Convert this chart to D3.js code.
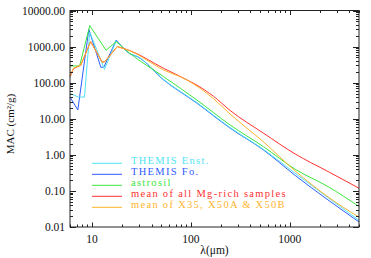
<!DOCTYPE html>
<html>
<head>
<meta charset="utf-8">
<script src="https://cdn.jsdelivr.net/npm/d3@7"></script>
<style>
  body { margin: 0; background: #fff; }
  svg { display: block; }
  text { font-family: "Liberation Serif", "Times New Roman", serif; }
</style>
</head>
<body>
<div id="chart"></div>
<script>
// wavelength (micron) / MAC (cm^2/g) pairs
const themisEnst = [[6,50],[7.3,40],[8.4,40],[9.5,2500],[13.4,235],[17.6,1450],[24,650],[29,530],[53,122],[115,28],[249,5.7],[540,1.42],[1130,0.31],[5000,0.0153]]
const themisFo = [[6,40],[7.2,17.5],[9.3,3000],[12.3,267],[13.2,270],[17.6,1520],[24,640],[29,520],[53,119],[115,27],[249,5.5],[540,1.37],[1130,0.27],[5000,0.0138]]
const astrosil = [[6,290],[7.5,290],[9.5,3800],[13.9,790],[17.6,1370],[24,660],[53,147],[115,33],[249,6.7],[540,1.69],[1130,0.40],[2455,0.13],[5000,0.037]]
const meanMg = [[6,145],[6.5,245],[7.7,305],[9.7,1370],[12.7,370],[13.5,385],[18,1000],[24,780],[53,250],[91,120],[115,85],[169,42],[249,17],[540,4.0],[1130,1.06],[2455,0.34],[5000,0.119]]
const meanX = [[6,153],[6.5,250],[7.7,310],[9.7,1370],[12.7,367],[13.5,380],[18,994],[24,770],[53,225],[91,119],[169,36],[249,13.5],[540,2.3],[1130,0.36],[2455,0.067],[5000,0.0187]]

const seriesNames = ["THEMIS Enst.", "THEMIS Fo.", "astrosil", "mean of all Mg-rich samples", "mean of X35, X50A & X50B"]
const seriesColors = ["#4fe3f5", "#2f5cff", "#3ce63c", "#ff3030", "#ffb42a"]
const seriesData = [themisEnst, themisFo, astrosil, meanMg, meanX]
const drawOrder = [1, 0, 2, 3, 4]

const yTicks = [0.01, 0.1, 1, 10, 100, 1000, 10000]
const xTicks = [10, 100, 1000]

const width = 371
const height = 258
const margin = {left: 70, right: 12, top: 10.5, bottom: 31}

const x = d3.scaleLog().domain([6, 5000]).range([margin.left, width - margin.right])
const y = d3.scaleLog().domain([0.01, 10000]).range([height - margin.bottom, margin.top])

const svg = d3.select("#chart").append("svg")
    .attr("width", width)
    .attr("height", height)

//curves: the silicate features are drawn straight, the far-IR tail smooth
const lineStraight = d3.line()
    .x(d => x(d[0]))
    .y(d => y(d[1]))
const lineSmooth = d3.line()
    .x(d => x(d[0]))
    .y(d => y(d[1]))
    .curve(d3.curveMonotoneX)

const plot = svg.append("g")
drawOrder.forEach(i => {
    const pts = seriesData[i]
    const k = pts.findIndex(d => d[0] >= 17.5) // the 18 micron peak
    plot.append("path")
        .attr("fill", "none")
        .attr("stroke", seriesColors[i])
        .attr("stroke-width", 1)
        .attr("d", lineStraight(pts.slice(0, k + 1)) + lineSmooth(pts.slice(k)).replace(/^M/, "L"))
})

//minor ticks for log axes (2..9 in each decade)
function minors(scale) {
    const [a, b] = scale.domain()
    const out = []
    for (let e = Math.floor(Math.log10(a)); e <= Math.ceil(Math.log10(b)); e++) {
        for (let k = 1; k < 10; k++) {
            const v = k * Math.pow(10, e)
            if (v >= a && v <= b) out.push({v: v, major: k == 1})
        }
    }
    return out
}

const axisColor = "#222"
const x0 = margin.left, x1 = width - margin.right
const y0 = height - margin.bottom, y1 = margin.top

const frame = svg.append("g").attr("stroke", axisColor).attr("stroke-width", 1).attr("fill", "none")
frame.append("rect")
    .attr("x", x0).attr("y", y1)
    .attr("width", x1 - x0).attr("height", y0 - y1)

// x ticks, bottom & top, pointing inward
minors(x).forEach(t => {
    const len = t.major ? 4.5 : 2.5
    const px = Math.round(x(t.v)) + 0.5
    frame.append("line").attr("x1", px).attr("x2", px).attr("y1", y0).attr("y2", y0 - len)
    frame.append("line").attr("x1", px).attr("x2", px).attr("y1", y1).attr("y2", y1 + len)
})
// y ticks, left & right
minors(y).forEach(t => {
    const len = t.major ? 6 : 3
    const py = Math.round(y(t.v)) + 0.5
    frame.append("line").attr("y1", py).attr("y2", py).attr("x1", x0).attr("x2", x0 + len)
    frame.append("line").attr("y1", py).attr("y2", py).attr("x1", x1).attr("x2", x1 - len)
})

//tick labels
svg.append("g").selectAll("text")
    .data(yTicks)
    .join("text")
        .attr("x", x0 - 5)
        .attr("y", d => y(d) + 4)
        .attr("text-anchor", "end")
        .attr("font-size", 11.5)
        .attr("fill", "#111")
        .text(d => d3.format(".2f")(d))

svg.append("g").selectAll("text")
    .data(xTicks)
    .join("text")
        .attr("x", d => x(d))
        .attr("y", 243)
        .attr("text-anchor", "middle")
        .attr("font-size", 11.5)
        .attr("fill", "#111")
        .text(d => d)

//axis titles
svg.append("text")
    .attr("x", (x0 + x1) / 2)
    .attr("y", 254)
    .attr("text-anchor", "middle")
    .attr("font-size", 11.5)
    .attr("fill", "#111")
    .text("λ(μm)")

svg.append("text")
    .attr("transform", "translate(13.5,124) rotate(-90)")
    .attr("text-anchor", "middle")
    .attr("font-size", 11)
    .attr("fill", "#111")
    .text("MAC (cm²/g)")

//legend
const legend = svg.append("g")
seriesNames.forEach((name, i) => {
    const ly = 163.3 + i * 11
    legend.append("line")
        .attr("x1", 92).attr("x2", 122)
        .attr("y1", ly).attr("y2", ly)
        .attr("stroke", seriesColors[i])
        .attr("stroke-width", 1)
    legend.append("text")
        .attr("x", 131)
        .attr("y", ly + 1)
        .attr("font-size", 10.5)
        .attr("letter-spacing", 1.3)
        .attr("fill", seriesColors[i])
        .text(name)
})
</script>
</body>
</html>
